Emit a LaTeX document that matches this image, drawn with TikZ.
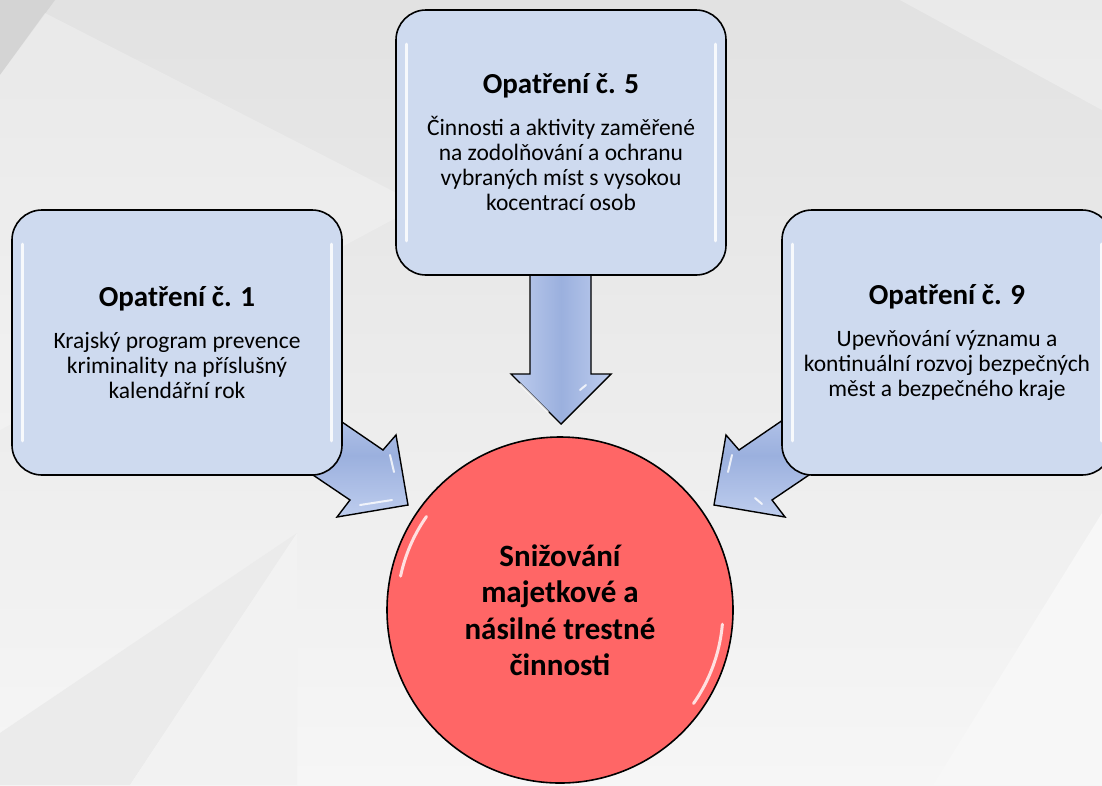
\documentclass[tikz,border=0pt]{standalone}
\usepackage{fontspec}
\setmainfont{Carlito}
\usetikzlibrary{calc}
\definecolor{boxfill}{RGB}{206,218,239}
\definecolor{redfill}{RGB}{255,102,102}
\definecolor{arrowblue}{RGB}{155,176,222}
\definecolor{arrowlight}{RGB}{190,205,238}
\definecolor{bgtop}{RGB}{226,226,226}
\definecolor{bgbot}{RGB}{246,246,246}
\newcommand\ttl[1]{{\bfseries\fontsize{29}{33}\selectfont #1}}
\tikzset{
  measure/.style={draw=black, line width=1.6pt, fill=boxfill, rounded corners=30pt,
    minimum width=330pt, minimum height=265pt, align=center, inner sep=0pt,
    font=\fontsize{23.5}{25}\selectfont},
  goal/.style={circle, draw=black, line width=1.6pt, fill=redfill, minimum size=346pt,
    align=center, inner sep=0pt, font=\bfseries\fontsize{31}{36.5}\selectfont},
  blockarrow/.style={draw=black, line width=1.4pt, fill=arrowblue},
  gloss/.style={white, line width=3pt, line cap=round, opacity=0.85},
  arrowgloss/.style={white, line width=2pt, opacity=0.8, line cap=round},
}
\begin{document}
\begin{tikzpicture}[x=1pt,y=-1pt]
\useasboundingbox (0,0) rectangle (1102,785);
\clip (0,0) rectangle (1102,785);
% background
\shade[top color=bgtop, bottom color=bgbot] (0,0) rectangle (1102,785);
\fill[black!17] (0,0) -- (55,0) -- (0,75) -- cycle;
\fill[white, opacity=0.25] (0,75) -- (45,13) -- (420,205) -- (0,430) -- cycle;
\fill[white, opacity=0.3] (900,0) -- (1102,0) -- (1102,110) -- cycle;
\fill[black!8] (0,733) -- (297,533) -- (130,785) -- (0,785) -- cycle;
\fill[black!5] (297,533) -- (297,785) -- (130,785) -- cycle;
\fill[black!3] (1102,513) -- (1102,785) -- (933,785) -- cycle;
% arrows
\path[blockarrow, left color=arrowlight, right color=arrowlight, middle color=arrowblue]
  (530,250) -- (530,374) -- (511,374) -- (561,424) -- (611,374) -- (591,374) -- (591,250) -- cycle;
\path[blockarrow, shading angle=-56, top color=arrowlight, bottom color=arrowlight, middle color=arrowblue]
  (301,394) -- (383,450) -- (396,435) -- (408,505) -- (337,517) -- (350,500) -- (276,450) -- cycle;
\path[blockarrow, shading angle=56, top color=arrowlight, bottom color=arrowlight, middle color=arrowblue]
  (821,394) -- (739,450) -- (726,435) -- (714,505) -- (785,517) -- (772,500) -- (846,450) -- cycle;
% arrow gloss
\draw[arrowgloss] (520,384) -- (548,412);
\draw[arrowgloss] (586,385) -- (580,390);
\draw[arrowgloss] (390,455) -- (394,472);
\draw[arrowgloss] (360,505) -- (392,500);
\draw[arrowgloss] (732,455) -- (728,472);
\draw[arrowgloss] (755,498) -- (762,504);
% measure boxes
\node[measure] (m1) at (177,342.5) {\ttl{Opatření č. 1}\\[17pt]Krajský program prevence\\kriminality na příslušný\\kalendářní rok};
\node[measure] (m5) at (561,142.5) {\ttl{Opatření č. 5}\\[17pt]Činnosti a aktivity zaměřené\\na zodolňování a ochranu\\vybraných míst s vysokou\\kocentrací osob};
\node[measure] (m9) at (947,342.5) {\ttl{Opatření č. 9}\\[17pt]Upevňování významu a\\kontinuální rozvoj bezpečných\\měst a bezpečného kraje};
% box gloss
\foreach \b in {m1,m5,m9}{
  \draw[gloss] ($(\b.north west)+(11,35)$) -- ($(\b.south west)+(11,-35)$);
  \draw[gloss] ($(\b.north east)+(-11,35)$) -- ($(\b.south east)+(-11,-35)$);
}
% goal circle
\node[goal] (goal) at (560,610) {Snižování\\majetkové a\\násilné trestné\\činnosti};
\draw[white, line width=3pt, opacity=0.8, line cap=round] ($(goal.center)+(-145:163)$) arc[start angle=-145, end angle=-168, radius=163];
\draw[white, line width=3pt, opacity=0.8, line cap=round] ($(goal.center)+(35:163)$) arc[start angle=35, end angle=5, radius=163];
\end{tikzpicture}
\end{document}
